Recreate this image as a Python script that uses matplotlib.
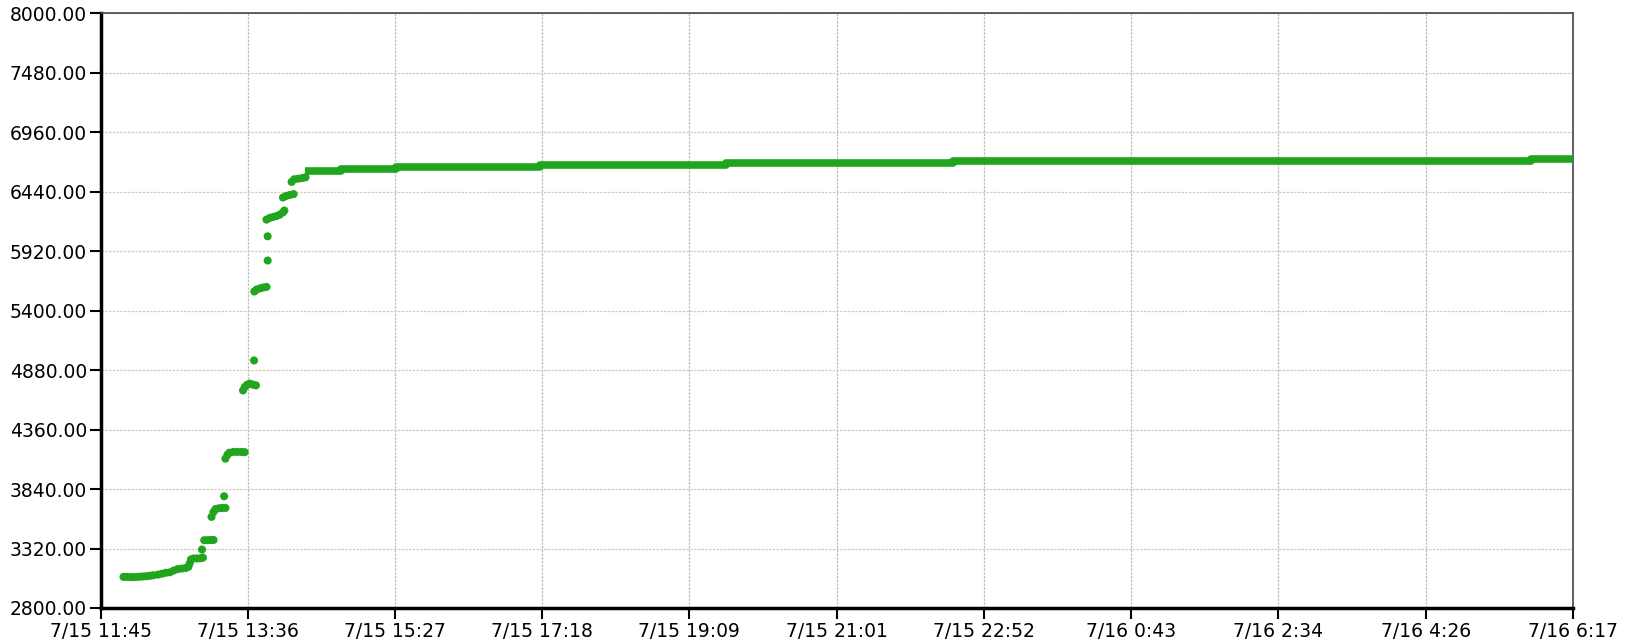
import matplotlib
matplotlib.use("Agg")
import matplotlib.pyplot as plt
import numpy as np

# x tick labels (date + clock time), first one is the time origin
tick_labels = ['7/15 11:45', '7/15 13:36', '7/15 15:27', '7/15 17:18', '7/15 19:09',
               '7/15 21:01', '7/15 22:52', '7/16 0:43', '7/16 2:34', '7/16 4:26', '7/16 6:17']

# rising part: minutes after 7/15 11:45, value
rise_t = [17, 19.5, 22, 24.5, 27, 29.5, 32, 34.5, 37, 39.5, 43, 46, 49, 52, 55, 58, 61, 64,
          66, 67, 68, 70, 72.5, 75, 77, 76.3, 78, 80.5, 83, 85, 83.5, 85, 86.5, 89, 91.5, 94,
          93, 94, 95.5, 97, 100, 103, 106, 108.5, 107.3, 108.6, 110.4, 112.5, 115, 117,
          115.6, 115.8, 117.5, 120, 122.5, 125, 125.9, 125.9, 125, 127.5, 130, 132.5, 135,
          137.5, 138.5, 137.5, 140, 142.5, 145.5, 144, 146, 149, 152, 154.5]
rise_v = [3072, 3072, 3070, 3070, 3072, 3074, 3076, 3078, 3082, 3086, 3092, 3100, 3108, 3112,
          3128, 3140, 3145, 3150, 3160, 3190, 3225, 3233, 3233, 3235, 3240, 3311, 3393, 3393,
          3395, 3395, 3597, 3640, 3665, 3672, 3675, 3675, 3777, 4106, 4140, 4158, 4165, 4165,
          4165, 4163, 4703, 4732, 4753, 4762, 4753, 4747, 4965, 5568, 5585, 5595, 5603, 5608,
          5839, 6051, 6197, 6212, 6220, 6228, 6240, 6260, 6276, 6390, 6404, 6412, 6420,
          6527, 6550, 6555, 6560, 6567]

# plateau (dense dots, drawn as thick step line)
plateau_t = [154, 181, 223, 332, 472, 644, 1080, 1112]
plateau_v = [6619, 6639, 6660, 6678, 6690, 6711, 6728, 6728]

green = '#22a51e'


def to_minutes(lbl):
    d, hm = lbl.split(' ')
    day = int(d.split('/')[1])
    h, m = hm.split(':')
    return (day - 15) * 1440 + int(h) * 60 + int(m) - (11 * 60 + 45)


tick_pos = [to_minutes(s) for s in tick_labels]

plt.rcParams['font.family'] = ['DejaVu Sans']
fig = plt.figure(figsize=(16.29, 6.41), dpi=100)
ax = fig.add_axes([0.062, 0.0515, 0.9036, 0.9275])

ax.plot(plateau_t, plateau_v, drawstyle='steps-post', color=green, lw=5.5,
        solid_capstyle='butt', zorder=3)
ax.scatter(rise_t, rise_v, s=34, color=green, edgecolors='none', zorder=3)

ax.set_xlim(tick_pos[0], tick_pos[-1])
ax.set_ylim(2800, 8000)
yt = np.arange(2800, 8001, 520)
ax.set_yticks(yt)
ax.set_yticklabels(['%.2f' % v for v in yt])
ax.set_xticks(tick_pos)
ax.set_xticklabels(tick_labels)
ax.tick_params(labelsize=13.5, length=8, width=1.5, pad=2, colors='black')

ax.grid(axis='y', color='#dccbb3', lw=0.9, ls=(0, (2, 1)))
ax.grid(axis='x', color='#bdbdbd', lw=0.9, ls=(0, (2, 1)))
ax.set_axisbelow(True)

ax.spines['left'].set_linewidth(2.5)
ax.spines['bottom'].set_linewidth(2.5)
for s in ['top', 'right']:
    ax.spines[s].set_linewidth(1.2)
    ax.spines[s].set_color('#444444')
    ax.spines[s].set_linestyle((0, (3, 1)))

fig.savefig('out.png', dpi=100)
